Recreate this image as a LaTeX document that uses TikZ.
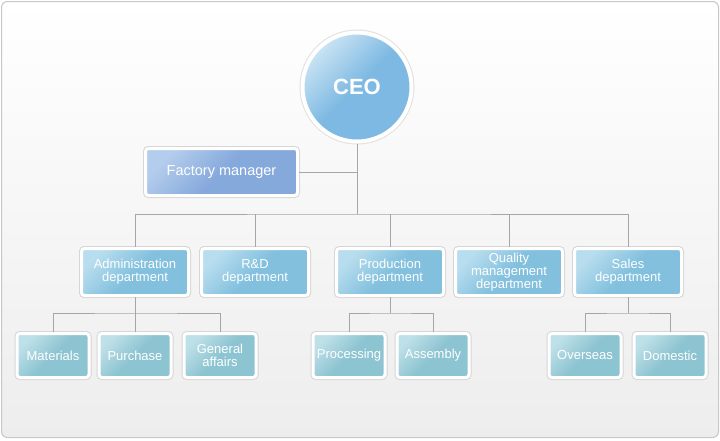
\documentclass[tikz,border=0pt]{standalone}
\usepackage{fontspec}
\setmainfont{Liberation Sans}
\definecolor{ceoblue}{HTML}{7DB9E2}
\definecolor{ceolight}{HTML}{CBE4F4}
\definecolor{fmblue}{HTML}{86A9DC}
\definecolor{fmlight}{HTML}{B4CDEC}
\definecolor{deptblue}{HTML}{82C0DE}
\definecolor{deptlight}{HTML}{B8DDEE}
\definecolor{leafblue}{HTML}{8DC4D1}
\definecolor{leaflight}{HTML}{BEE0E8}

\begin{document}
\begin{tikzpicture}[x=1pt,y=-1pt,
  box/.style={rectangle,rounded corners=3pt,draw=white,line width=3pt,
    preaction={draw=black!16,line width=5pt},
    align=center,text=white,inner sep=0pt,
    font=\fontsize{13}{13}\selectfont},
  ceobox/.style={circle,draw=white,line width=4pt,
    preaction={draw=black!12,line width=6pt},
    minimum size=109pt,text=white,inner sep=0pt,
    top color=ceolight,bottom color=ceoblue,middle color=ceoblue,shading angle=45,
    font=\bfseries\fontsize{22}{22}\selectfont},
  fmbox/.style={box,minimum width=152pt,minimum height=47pt,
    top color=fmlight,bottom color=fmblue,middle color=fmblue,shading angle=45,
    font=\fontsize{14.5}{14.5}\selectfont},
  deptbox/.style={box,minimum width=107pt,minimum height=47pt,
    top color=deptlight,bottom color=deptblue,middle color=deptblue,shading angle=45},
  leafbox/.style={box,minimum width=72pt,minimum height=44pt,
    top color=leaflight,bottom color=leafblue,middle color=leafblue,shading angle=45},
  link/.style={draw=black!35,line width=1pt}]
  \useasboundingbox (0,0) rectangle (720,440);
  % frame
  \draw[draw=black!22,line width=1pt,rounded corners=6pt,
    top color=white,bottom color=black!7] (1.5,1.5) rectangle (718.5,437.5);
  % top
  \node[ceobox] (ceo) at (357,87) {CEO};
  \node[fmbox] (factory) at (221.5,172) {Factory manager};
  % departments
  \node[deptbox] (admin) at (135,272) {Administration\\department};
  \node[deptbox] (rd) at (255,272) {R\&D\\department};
  \node[deptbox] (prod) at (390,272) {Production\\department};
  \node[deptbox] (qual) at (509,272) {Quality\\management\\department};
  \node[deptbox] (sales) at (628,272) {Sales\\department};
  % sections
  \node[leafbox] (materials) at (53,355.5) {Materials};
  \node[leafbox] (purchase) at (135,355.5) {Purchase};
  \node[leafbox] (general) at (220,355.5) {General\\affairs};
  \node[leafbox] (processing) at (349,355.5) {Processing};
  \node[leafbox] (assembly) at (433,355.5) {Assembly};
  \node[leafbox] (overseas) at (585,355.5) {Overseas};
  \node[leafbox] (domestic) at (670,355.5) {Domestic};
  % connectors
  \coordinate (bus) at (357,214);
  \coordinate (adminbus) at (135,313);
  \coordinate (prodbus) at (390,313);
  \coordinate (salesbus) at (628,313);
  \draw[link] (ceo) -- (bus);
  \draw[link] (factory) -- (factory -| ceo);
  \draw[link] (admin.north) |- (bus) -| (sales.north);
  \foreach \d in {rd,prod,qual} \draw[link] (\d.north) -- (\d.north |- bus);
  \draw[link] (admin) -- (adminbus);
  \draw[link] (materials.north) |- (adminbus) -| (general.north);
  \draw[link] (purchase) -- (adminbus);
  \draw[link] (prod) -- (prodbus);
  \draw[link] (processing.north) |- (prodbus) -| (assembly.north);
  \draw[link] (sales) -- (salesbus);
  \draw[link] (overseas.north) |- (salesbus) -| (domestic.north);
\end{tikzpicture}
\end{document}
